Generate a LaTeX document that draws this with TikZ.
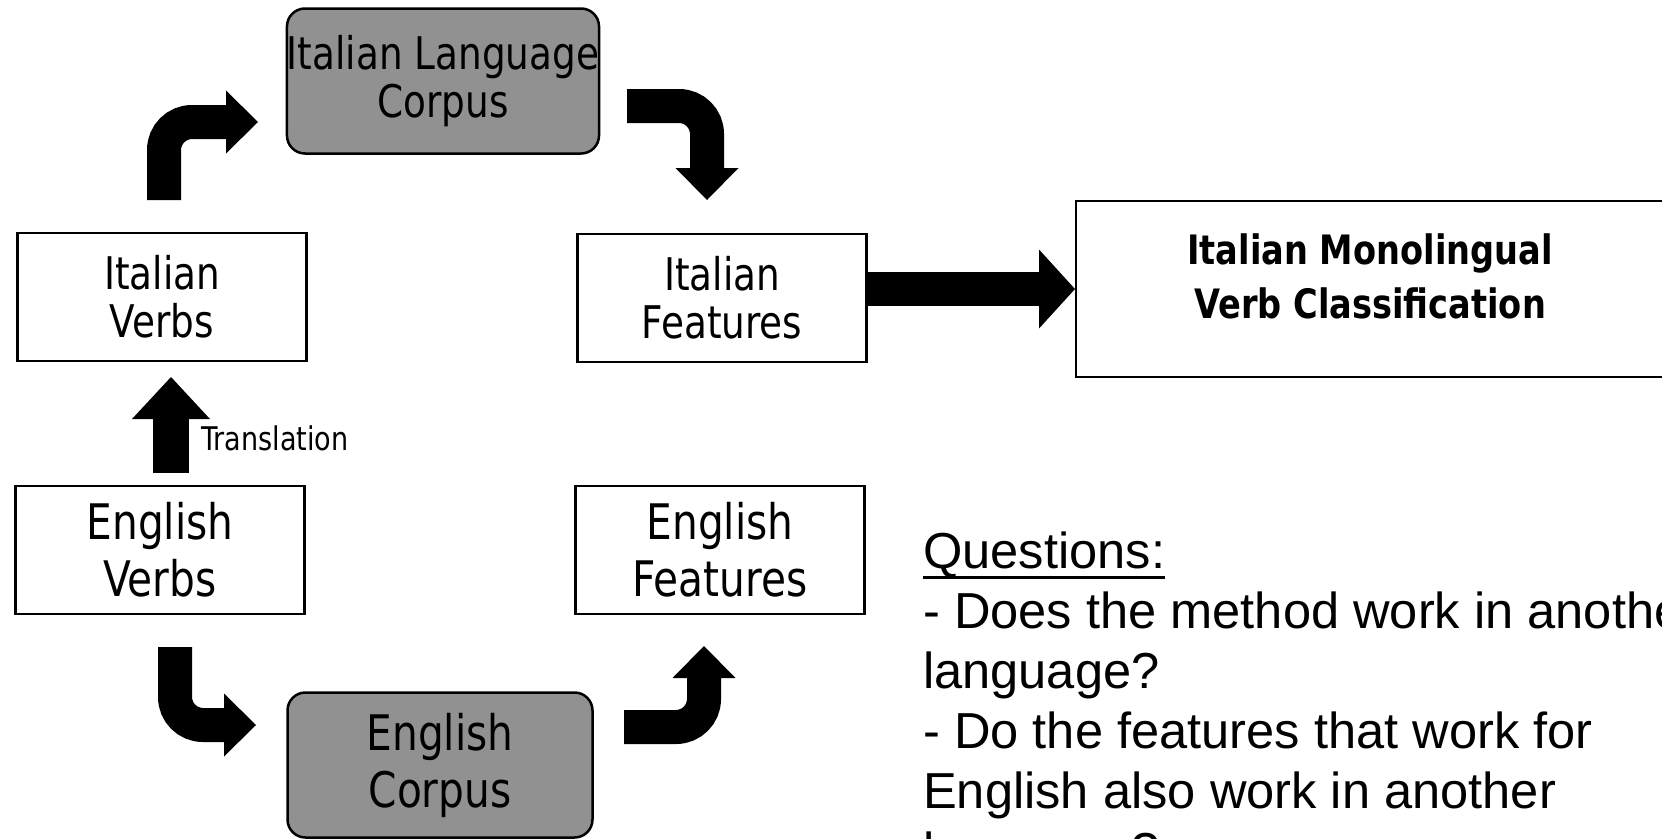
\documentclass[tikz,border=0pt]{standalone}
\usepackage{fontspec}
\usetikzlibrary{arrows.meta,calc}
\newfontfamily\tahomafont{DejaVu Sans}[FakeStretch=0.83]
\newfontfamily\arialfont{Liberation Sans}
\definecolor{corpusgray}{RGB}{145,145,145}
\newcommand{\qunder}[1]{\setbox0\hbox{#1}\rlap{\rule[-10.5pt]{\wd0}{3pt}}\box0}

\begin{document}
\begin{tikzpicture}[x=1pt,y=-1pt,
  box/.style={draw,line width=2.5pt,align=center,inner sep=0pt,minimum width=289pt,minimum height=128pt},
  itbox/.style={box,font=\tahomafont\fontsize{45}{48}\selectfont},
  enbox/.style={box,font=\tahomafont\fontsize{49}{57}\selectfont},
  corpus/.style={rounded corners=18pt,fill=corpusgray,minimum width=305pt,minimum height=145pt},
  bent/.style={line width=34pt,rounded corners=28pt,-{Triangle[width=63pt,length=32pt,line width=0pt]}},
  uparrow/.style={line width=36pt,-{Triangle[width=78pt,length=42pt,line width=0pt]}},
  bigarrow/.style={line width=34pt,-{Triangle[width=79pt,length=36pt,line width=0pt]}}]
\useasboundingbox (0,0) rectangle (1662,838);
\node[itbox] (itverbs) at (162,297) {Italian\\Verbs};
\node[itbox] (itfeat) at (722,298) {Italian\\Features};
\node[enbox] (enverbs) at (160,550) {English\\Verbs};
\node[enbox] (enfeat) at (720,550) {English\\Features};
\node[itbox,corpus] (itcorpus) at (443,81) {Italian Language\\Corpus};
\node[enbox,corpus] (encorpus) at (440,765) {English\\Corpus};
\node[draw,line width=2pt,minimum width=588pt,minimum height=176pt] (mono) at (1370,289) {};
\node[font=\tahomafont\bfseries\fontsize{40.5}{54}\selectfont,align=center] (monotext) at ($(mono.center)+(0,-13)$) {Italian Monolingual\\Verb Classification};
\node[font=\tahomafont\fontsize{32.6}{39}\selectfont,anchor=base west,inner sep=0pt] (transl) at (201,450) {Translation};
\node[font=\arialfont\fontsize{50.6}{60}\selectfont,align=left,anchor=north west,inner sep=0pt] (questions) at (923,532) {\qunder{Questions:}\\- Does the method work in another\\language?\\- Do the features that work for\\English also work in another\\language?};
\coordinate (tr1) at (171,473); \coordinate (tr2) at (171,377);
\coordinate (b1s) at (164,200); \coordinate (b1e) at (258,122);
\coordinate (b2s) at (627,106); \coordinate (b2e) at (707,200);
\coordinate (b3s) at (175,647); \coordinate (b3e) at (256,725);
\coordinate (b4s) at (624,727); \coordinate (b4e) at (704,646);
\draw[uparrow] (tr1) -- (tr2);
\draw[bent] (b1s) |- (b1e);
\draw[bent] (b2s) -| (b2e);
\draw[bent] (b3s) |- (b3e);
\draw[bent] (b4s) -| (b4e);
\draw[bigarrow] (itfeat.east |- mono.west) -- (mono.west);
\end{tikzpicture}
\end{document}
